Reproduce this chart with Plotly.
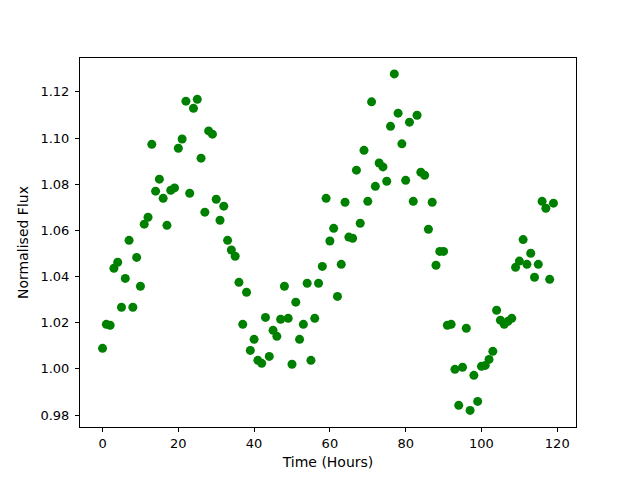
import plotly.graph_objects as go

time_hours = [0, 1, 2, 3, 4, 5, 6, 7, 8, 9, 10, 11, 12, 13, 14, 15, 16, 17, 18, 19,
              20, 21, 22, 23, 24, 25, 26, 27, 28, 29, 30, 31, 32, 33, 34, 35, 36, 37, 38, 39,
              40, 41, 42, 43, 44, 45, 46, 47, 48, 49, 50, 51, 52, 53, 54, 55, 56, 57, 58, 59,
              60, 61, 62, 63, 64, 65, 66, 67, 68, 69, 70, 71, 72, 73, 74, 75, 76, 77, 78, 79,
              80, 81, 82, 83, 84, 85, 86, 87, 88, 89, 90, 91, 92, 93, 94, 95, 96, 97, 98, 99,
              100, 101, 102, 103, 104, 105, 106, 107, 108, 109, 110, 111, 112, 113, 114, 115, 116, 117, 118, 119]

flux = [1.0089, 1.0193, 1.0189, 1.0436, 1.0462, 1.0267, 1.0392, 1.0557, 1.0267, 1.0483,
        1.0358, 1.0627, 1.0657, 1.0973, 1.0770, 1.0822, 1.0739, 1.0622, 1.0774, 1.0784,
        1.0956, 1.0996, 1.1160, 1.0761, 1.1129, 1.1168, 1.0913, 1.0679, 1.1031, 1.1017,
        1.0735, 1.0644, 1.0705, 1.0557, 1.0515, 1.0488, 1.0375, 1.0193, 1.0332, 1.0080,
        1.0128, 1.0037, 1.0024, 1.0223, 1.0054, 1.0167, 1.0141, 1.0215, 1.0358, 1.0219,
        1.0020, 1.0289, 1.0128, 1.0193, 1.0371, 1.0037, 1.0219, 1.0371, 1.0444, 1.0739,
        1.0554, 1.0609, 1.0314, 1.0453, 1.0722, 1.0571, 1.0566, 1.0861, 1.0631, 1.0947,
        1.0726, 1.1157, 1.0791, 1.0892, 1.0875, 1.0813, 1.1051, 1.1278, 1.1108, 1.0975,
        1.0817, 1.1069, 1.0726, 1.1099, 1.0852, 1.0839, 1.0605, 1.0722, 1.0449, 1.0509,
        1.0509, 1.0189, 1.0193, 0.9998, 0.9842, 1.0007, 1.0176, 0.9820, 0.9972, 0.9859,
        1.0011, 1.0015, 1.0041, 1.0076, 1.0254, 1.0211, 1.0193, 1.0206, 1.0219, 1.0440,
        1.0467, 1.0560, 1.0453, 1.0501, 1.0397, 1.0453, 1.0726, 1.0696, 1.0388, 1.0718]

x_ticks = [0, 20, 40, 60, 80, 100, 120]
y_ticks = [0.98, 1.00, 1.02, 1.04, 1.06, 1.08, 1.10, 1.12]

fig = go.Figure(go.Scatter(
    x=time_hours, y=flux, mode="markers",
    marker=dict(color="#008000", size=9, line=dict(width=0)),
))

tick_font = dict(family="DejaVu Sans", size=13, color="black")
title_font = dict(family="DejaVu Sans", size=14, color="black")
axis_common = dict(
    showgrid=False, zeroline=False, showline=True, linecolor="black", linewidth=1,
    mirror=True, ticks="outside", ticklen=4, tickcolor="black", tickwidth=1,
    tickfont=tick_font,
)
fig.update_xaxes(range=[-5.95, 124.95], tickvals=x_ticks,
                 title=dict(text="Time (Hours)", font=title_font, standoff=7), **axis_common)
fig.update_yaxes(range=[0.9748, 1.1347], tickvals=y_ticks, tickformat=".2f",
                 ticklabelstandoff=3,
                 title=dict(text="Normalised Flux", font=title_font, standoff=8), **axis_common)
fig.update_layout(
    width=640, height=480, showlegend=False,
    margin=dict(l=72, r=72, t=50, b=61),
    plot_bgcolor="white", paper_bgcolor="white", font=tick_font,
)
fig.write_html("out.html")
